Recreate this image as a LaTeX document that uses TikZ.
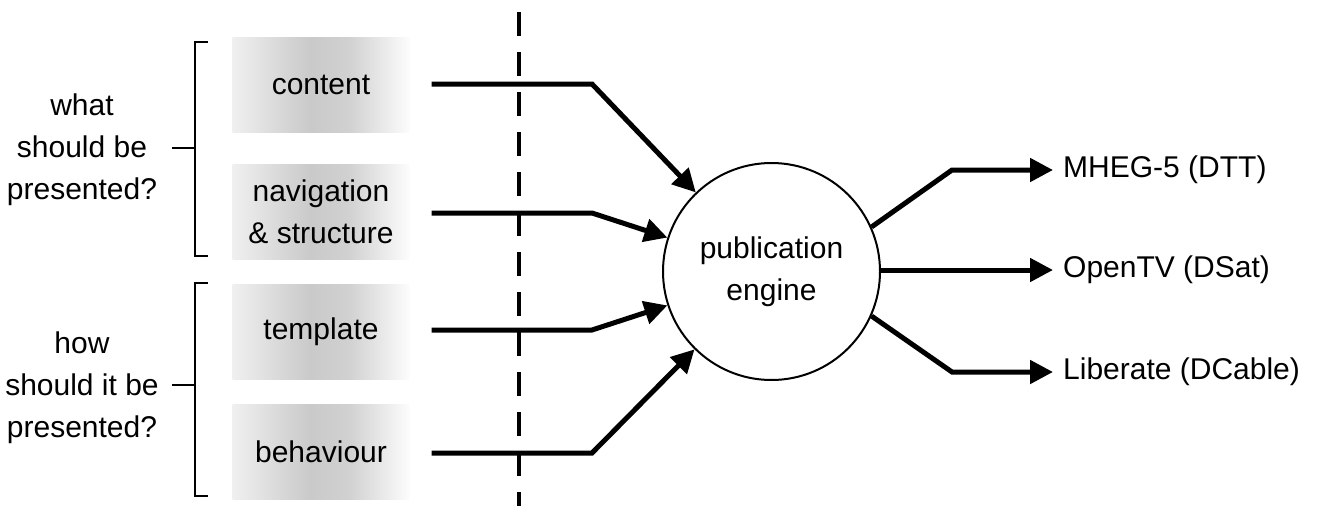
\documentclass[tikz,border=0pt]{standalone}
\usepackage{fontspec}
\setmainfont{Liberation Sans}
\usetikzlibrary{arrows.meta}
\pgfdeclarehorizontalshading{boxshade}{100bp}{color(0bp)=(black!6); color(25bp)=(black!6); color(47bp)=(black!21); color(58bp)=(black!18); color(75bp)=(black!1); color(100bp)=(black!1)}
\tikzset{
  lbl/.style={font=\fontsize{30}{42}\selectfont, align=center, inner sep=0pt},
  shadebox/.style={lbl, shading=boxshade, minimum width=177pt, minimum height=95pt},
  arr/.style={line width=5pt, -{Triangle[length=23pt,width=23pt]}, line join=miter},
  brk/.style={line width=2pt},
  engine/.style={circle, draw, line width=2pt, minimum size=217pt, inner sep=0pt, lbl}
}
\begin{document}
\begin{tikzpicture}[x=1pt,y=-1pt]
\useasboundingbox (0,0) rectangle (1317,506);
% dashed divider
\draw[line width=3.5pt, dash pattern=on 24pt off 16pt] (519,12) -- (519,506);
% boxes
\node[shadebox] (content) at (321,85) {content};
\node[shadebox] (nav) at (321,212) {navigation\\\& structure};
\node[shadebox] (tmpl) at (321,332) {template};
\node[shadebox] (behav) at (321,452) {behaviour};
% brackets
\draw[brk] (208,42) -- (195,42) -- (195,256) -- (208,256);
\draw[brk] (172,148) -- (195,148);
\draw[brk] (208,283) -- (195,283) -- (195,496) -- (208,496);
\draw[brk] (172,385) -- (195,385);
\node[lbl] (what) at (82,150) {what\\should be\\presented?};
\node[lbl] (how) at (82,388) {how\\should it be\\presented?};
% engine
\node[engine] (pe) at (771.5,271.5) {publication\\engine};
% inputs
\coordinate (c1) at (592,84);
\coordinate (c2) at (592,213);
\coordinate (c3) at (592,330);
\coordinate (c4) at (592,453);
\draw[arr] ([xshift=22pt]content.east |- c1) -- (c1) -- (pe);
\draw[arr] ([xshift=22pt]nav.east |- c2) -- (c2) -- (pe);
\draw[arr] ([xshift=22pt]tmpl.east |- c3) -- (c3) -- (pe);
\draw[arr] ([xshift=22pt]behav.east |- c4) -- (c4) -- (pe);
% outputs
\node[lbl, anchor=west] (mheg) at (1063,170) {MHEG-5 (DTT)};
\node[lbl, anchor=west] (otv) at (1063,270) {OpenTV (DSat)};
\node[lbl, anchor=west] (lib) at (1063,372) {Liberate (DCable)};
\coordinate (o1) at (952,170);
\coordinate (o3) at (952,372);
\draw[arr] (pe.24) -- (o1) -- ([xshift=-10pt]mheg.west);
\draw[arr] (pe.east |- otv) -- ([xshift=-10pt]otv.west);
\draw[arr] (pe.-24) -- (o3) -- ([xshift=-10pt]lib.west);
\end{tikzpicture}
\end{document}
